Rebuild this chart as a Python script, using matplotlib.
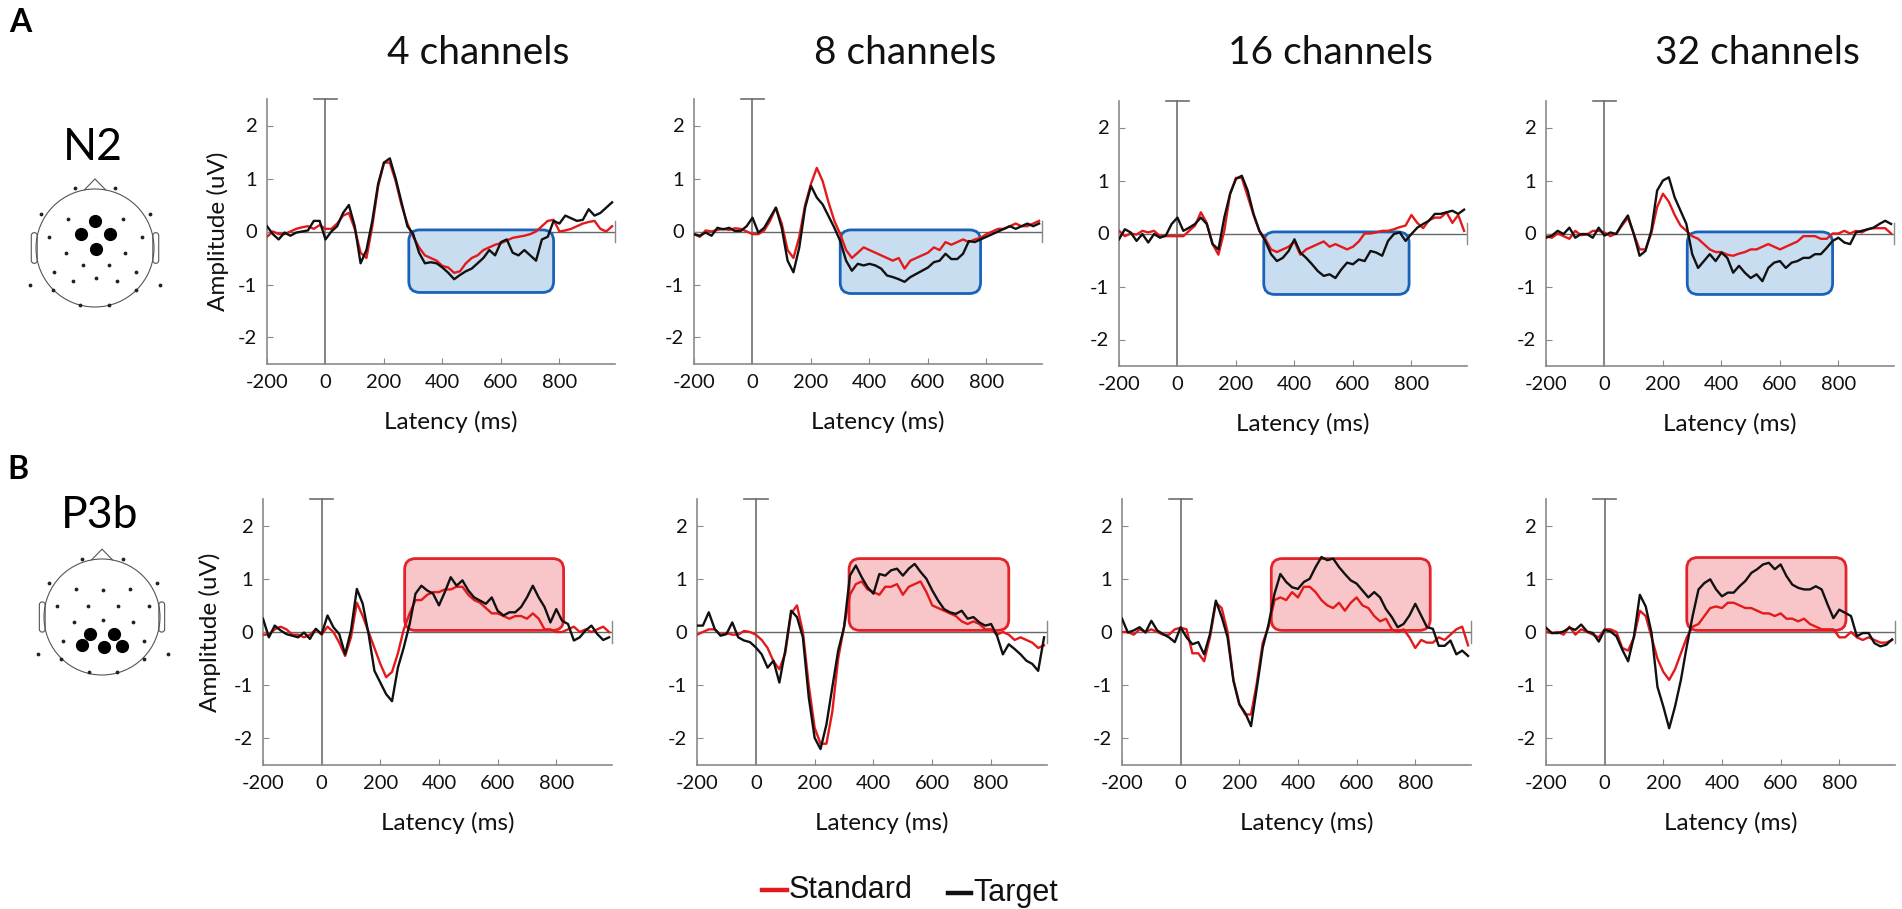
import matplotlib
matplotlib.use('Agg')
import matplotlib.pyplot as plt
from matplotlib.patches import FancyBboxPatch, Circle
from matplotlib.lines import Line2D
from matplotlib.transforms import IdentityTransform

plt.rcParams['font.family'] = ['Lato', 'DejaVu Sans']

# ---------------- data ----------------
T = list(range(-200, 1000, 20))  # latency (ms)

columns = ['4 channels', '8 channels', '16 channels', '32 channels']
components = ['N2', 'P3b']

A1_tgt = [0.1, -0.05, -0.15, -0.02, -0.08, -0.02, 0.0, 0.02, 0.2, 0.2,
          -0.15, 0.0, 0.1, 0.35, 0.5, 0.1, -0.6, -0.35, 0.2, 0.9,
          1.3, 1.38, 1.0, 0.55, 0.1, -0.05, -0.4, -0.6, -0.58, -0.6,
          -0.68, -0.78, -0.9, -0.82, -0.75, -0.7, -0.6, -0.5, -0.35, -0.45,
          -0.2, -0.15, -0.4, -0.45, -0.35, -0.45, -0.55, -0.15, -0.1, 0.2,
          0.15, 0.3, 0.25, 0.2, 0.22, 0.42, 0.3, 0.35, 0.45, 0.55]
A1_std = [-0.1, 0.0, -0.05, -0.05, 0.0, 0.05, 0.08, 0.1, 0.05, 0.12,
          0.05, 0.05, 0.15, 0.3, 0.35, 0.05, -0.4, -0.5, 0.1, 0.85,
          1.3, 1.3, 0.95, 0.5, 0.15, -0.1, -0.3, -0.45, -0.5, -0.55,
          -0.65, -0.68, -0.78, -0.75, -0.6, -0.5, -0.45, -0.35, -0.3, -0.25,
          -0.22, -0.17, -0.12, -0.1, -0.08, -0.05, 0.0, 0.1, 0.2, 0.22,
          0.0, 0.02, 0.05, 0.1, 0.15, 0.18, 0.2, 0.05, 0.0, 0.1]
A2_tgt = [-0.05, -0.08, -0.02, -0.08, 0.07, 0.04, 0.07, 0.01, 0.01, 0.1,
          0.26, -0.02, 0.07, 0.26, 0.45, 0.07, -0.55, -0.77, -0.3, 0.45,
          0.86, 0.64, 0.51, 0.29, 0.07, -0.18, -0.55, -0.74, -0.61, -0.64,
          -0.61, -0.64, -0.7, -0.83, -0.86, -0.9, -0.95, -0.86, -0.8, -0.74,
          -0.68, -0.58, -0.55, -0.42, -0.52, -0.52, -0.42, -0.18, -0.2, -0.15,
          -0.1, -0.05, 0.0, 0.05, 0.1, 0.05, 0.1, 0.15, 0.1, 0.15]
A2_std = [-0.05, -0.1, 0.02, 0.0, 0.03, 0.05, 0.03, 0.06, 0.05, 0.0,
          -0.05, -0.05, 0.02, 0.2, 0.45, 0.15, -0.35, -0.5, -0.1, 0.5,
          0.9, 1.2, 0.95, 0.55, 0.2, -0.05, -0.35, -0.5, -0.4, -0.3,
          -0.35, -0.4, -0.45, -0.5, -0.55, -0.5, -0.7, -0.55, -0.5, -0.45,
          -0.4, -0.3, -0.35, -0.2, -0.25, -0.2, -0.15, -0.2, -0.15, -0.12,
          -0.05, 0.0, 0.05, 0.05, 0.1, 0.15, 0.1, 0.1, 0.15, 0.2]
A3_tgt = [-0.11, 0.08, 0.02, -0.14, -0.01, -0.17, -0.01, -0.08, -0.04, 0.18,
          0.3, 0.05, 0.11, 0.18, 0.3, 0.18, -0.2, -0.3, 0.3, 0.75,
          1.03, 1.09, 0.81, 0.37, 0.05, -0.14, -0.39, -0.52, -0.46, -0.33,
          -0.11, -0.36, -0.46, -0.58, -0.71, -0.8, -0.77, -0.84, -0.68, -0.55,
          -0.58, -0.49, -0.52, -0.33, -0.36, -0.42, -0.14, -0.01, 0.02, -0.14,
          -0.01, 0.11, 0.18, 0.24, 0.37, 0.37, 0.4, 0.43, 0.37, 0.45]
A3_std = [0.05, -0.05, 0.0, -0.02, 0.05, 0.02, 0.05, -0.05, -0.05, -0.05,
          -0.05, -0.05, 0.05, 0.15, 0.4, 0.2, -0.2, -0.4, 0.05, 0.75,
          1.05, 1.05, 0.7, 0.35, 0.05, -0.1, -0.3, -0.35, -0.3, -0.25,
          -0.15, -0.4, -0.3, -0.25, -0.2, -0.15, -0.25, -0.2, -0.25, -0.3,
          -0.25, -0.15, 0.0, 0.0, 0.02, 0.05, 0.05, 0.08, 0.12, 0.15,
          0.35, 0.2, 0.1, 0.25, 0.3, 0.3, 0.4, 0.2, 0.35, 0.05]
A4_tgt = [-0.08, -0.04, 0.05, -0.01, 0.11, -0.08, -0.01, -0.01, -0.08, 0.11,
          -0.04, 0.02, -0.01, 0.18, 0.34, -0.01, -0.42, -0.33, 0.05, 0.81,
          1.0, 1.06, 0.68, 0.43, 0.18, -0.39, -0.65, -0.52, -0.39, -0.52,
          -0.36, -0.46, -0.74, -0.61, -0.74, -0.84, -0.77, -0.9, -0.65, -0.55,
          -0.52, -0.65, -0.55, -0.52, -0.46, -0.46, -0.39, -0.39, -0.27, -0.14,
          -0.08, -0.17, -0.2, 0.02, 0.05, 0.08, 0.11, 0.18, 0.24, 0.18]
A4_std = [-0.05, -0.08, 0.0, -0.05, -0.1, 0.05, -0.03, -0.02, 0.05, 0.05,
          0.02, -0.05, 0.0, 0.15, 0.3, 0.0, -0.3, -0.3, 0.0, 0.5,
          0.75, 0.6, 0.35, 0.15, 0.05, -0.05, -0.1, -0.2, -0.3, -0.35,
          -0.35, -0.4, -0.42, -0.38, -0.35, -0.3, -0.3, -0.25, -0.2, -0.25,
          -0.3, -0.25, -0.2, -0.15, -0.05, -0.05, -0.05, -0.1, -0.1, 0.0,
          0.0, 0.05, 0.0, 0.05, 0.02, 0.08, 0.1, 0.1, 0.1, 0.0]

B1_tgt = [0.25, -0.1, 0.12, 0.03, -0.04, -0.07, -0.1, -0.01, -0.13, 0.06,
          -0.04, 0.31, 0.09, -0.04, -0.42, 0.03, 0.81, 0.53, -0.04, -0.73,
          -0.95, -1.17, -1.3, -0.67, -0.29, 0.15, 0.72, 0.87, 0.78, 0.72,
          0.5, 0.75, 1.03, 0.87, 0.97, 0.78, 0.65, 0.59, 0.53, 0.65,
          0.4, 0.31, 0.37, 0.37, 0.47, 0.65, 0.87, 0.65, 0.47, 0.18,
          0.43, 0.21, 0.15, -0.16, -0.1, 0.03, 0.12, -0.04, -0.15, -0.1]
B1_std = [-0.05, -0.05, 0.05, 0.1, 0.05, -0.05, -0.05, -0.1, -0.05, 0.05,
          -0.05, 0.1, 0.0, -0.2, -0.45, -0.1, 0.55, 0.3, 0.0, -0.3,
          -0.6, -0.85, -0.75, -0.4, 0.05, 0.35, 0.6, 0.6, 0.7, 0.75,
          0.75, 0.8, 0.8, 0.85, 0.85, 0.7, 0.6, 0.55, 0.45, 0.35,
          0.35, 0.3, 0.25, 0.3, 0.3, 0.25, 0.35, 0.25, 0.05, 0.05,
          0.0, 0.0, 0.05, 0.1, 0.0, 0.05, 0.0, 0.05, 0.1, 0.0]
B2_tgt = [0.12, 0.12, 0.37, 0.06, -0.07, -0.04, 0.18, -0.1, -0.16, -0.19,
          -0.29, -0.42, -0.67, -0.54, -0.95, -0.35, 0.4, 0.28, -0.1, -1.23,
          -1.99, -2.2, -1.74, -1.04, -0.35, 0.09, 1.06, 1.25, 1.03, 0.84,
          0.72, 1.09, 1.06, 1.16, 1.19, 1.06, 1.19, 1.28, 1.13, 1.0,
          0.78, 0.59, 0.43, 0.37, 0.34, 0.4, 0.25, 0.28, 0.18, 0.12,
          0.15, -0.07, -0.42, -0.23, -0.32, -0.42, -0.54, -0.6, -0.73, -0.1]
B2_std = [-0.05, 0.0, 0.05, 0.05, -0.05, -0.02, -0.05, -0.05, 0.02, 0.0,
          -0.05, -0.15, -0.3, -0.55, -0.7, -0.4, 0.35, 0.5, 0.0, -1.0,
          -1.8, -2.1, -2.1, -1.5, -0.5, 0.1, 0.7, 0.9, 0.95, 0.8,
          0.75, 0.7, 0.85, 0.85, 0.9, 0.7, 0.85, 0.9, 0.95, 0.75,
          0.5, 0.45, 0.4, 0.35, 0.3, 0.2, 0.15, 0.2, 0.15, 0.05,
          0.05, -0.05, 0.0, -0.05, -0.15, -0.1, -0.15, -0.2, -0.3, -0.25]
B3_tgt = [0.25, -0.01, 0.03, 0.09, -0.01, 0.21, 0.03, -0.04, -0.1, -0.19,
          0.09, -0.1, -0.23, -0.19, -0.42, -0.04, 0.59, 0.28, -0.1, -0.92,
          -1.36, -1.52, -1.77, -1.04, -0.29, 0.15, 0.72, 1.09, 0.94, 0.84,
          0.81, 0.94, 1.0, 1.22, 1.41, 1.35, 1.38, 1.22, 1.09, 0.97,
          0.91, 0.78, 0.65, 0.75, 0.65, 0.43, 0.28, 0.09, 0.15, 0.31,
          0.53, 0.31, 0.09, 0.06, -0.26, -0.26, -0.16, -0.42, -0.35, -0.45]
B3_std = [0.0, 0.0, -0.05, 0.05, 0.0, 0.05, 0.0, -0.05, -0.05, 0.05,
          0.08, 0.05, -0.4, -0.4, -0.55, -0.1, 0.55, 0.45, 0.0, -0.9,
          -1.35, -1.55, -1.55, -0.95, -0.2, 0.1, 0.6, 0.65, 0.6, 0.75,
          0.65, 0.85, 0.85, 0.75, 0.6, 0.5, 0.45, 0.55, 0.4, 0.55,
          0.65, 0.5, 0.45, 0.3, 0.2, 0.25, 0.05, 0.0, 0.05, -0.1,
          -0.3, -0.15, -0.2, -0.2, -0.1, -0.15, -0.05, 0.05, 0.1, -0.25]
B4_tgt = [0.08, -0.02, -0.02, 0.01, 0.08, 0.04, 0.14, 0.01, -0.02, -0.18,
          0.04, 0.01, -0.08, -0.33, -0.55, -0.08, 0.7, 0.48, -0.02, -1.03,
          -1.4, -1.81, -1.4, -0.9, -0.27, 0.3, 0.8, 0.92, 0.99, 0.8,
          0.67, 0.74, 0.74, 0.86, 0.96, 1.11, 1.18, 1.27, 1.3, 1.18,
          1.27, 1.05, 0.89, 0.83, 0.8, 0.8, 0.86, 0.8, 0.52, 0.26,
          0.42, 0.36, 0.3, -0.08, -0.02, -0.02, -0.21, -0.27, -0.24, -0.14]
B4_std = [0.0, -0.02, 0.0, -0.05, 0.1, -0.05, 0.05, 0.0, -0.05, -0.1,
          0.05, 0.05, 0.0, -0.3, -0.35, -0.1, 0.4, 0.3, -0.1, -0.5,
          -0.75, -0.9, -0.7, -0.4, -0.1, 0.1, 0.15, 0.3, 0.45, 0.48,
          0.45, 0.55, 0.55, 0.5, 0.45, 0.45, 0.4, 0.35, 0.35, 0.3,
          0.35, 0.25, 0.25, 0.2, 0.25, 0.15, 0.1, 0.05, 0.05, 0.05,
          -0.1, -0.1, 0.0, -0.1, -0.15, -0.1, -0.15, -0.2, -0.2, -0.15]

standard = [[A1_std, A2_std, A3_std, A4_std], [B1_std, B2_std, B3_std, B4_std]]
target = [[A1_tgt, A2_tgt, A3_tgt, A4_tgt], [B1_tgt, B2_tgt, B3_tgt, B4_tgt]]

# analysis windows: (start ms, end ms, low uV, high uV)
windows = [[(285, 780, -1.15, 0.03), (300, 780, -1.17, 0.03), (295, 792, -1.15, 0.03), (283, 780, -1.15, 0.03)],
           [(283, 825, 0.03, 1.38), (317, 860, 0.03, 1.38), (309, 851, 0.03, 1.38), (280, 823, 0.03, 1.40)]]

xticks = [-200, 0, 200, 400, 600, 800]
yticks = [-2, -1, 0, 1, 2]

# electrode layouts (normalized head coords)
n2_small = [(-0.34, 1.01), (0.34, 1.01), (-0.91, 0.57), (0.93, 0.57), (-0.45, 0.49), (0.47, 0.49),
            (-0.78, 0.19), (0.79, 0.19), (-0.5, -0.08), (0.5, -0.08), (-0.21, -0.29), (0.24, -0.29),
            (-0.69, -0.4), (0.69, -0.4), (-1.11, -0.62), (1.11, -0.62), (-0.37, -0.56), (0.01, -0.5),
            (0.37, -0.56), (-0.71, -0.72), (0.7, -0.72), (-0.26, -0.96), (0.24, -0.96)]
n2_big = [(0.0, 0.46), (-0.24, 0.24), (0.25, 0.24), (0.02, -0.01)]
p3_small = [(-0.34, 1.0), (0.36, 1.0), (-0.91, 0.58), (0.94, 0.58), (-0.44, 0.49), (0.01, 0.46),
            (0.49, 0.49), (-0.78, 0.19), (-0.24, 0.19), (0.27, 0.19), (0.81, 0.19), (-0.49, -0.09),
            (0.01, -0.05), (0.53, -0.09), (-0.67, -0.41), (0.72, -0.41), (-1.11, -0.63), (1.14, -0.63),
            (-0.7, -0.72), (0.72, -0.72), (-0.22, -0.95), (0.26, -0.95)]
p3_big = [(-0.2, -0.3), (0.21, -0.3), (-0.34, -0.49), (0.03, -0.52), (0.35, -0.5)]

# ---------------- layout ----------------
W, H = 1902, 909
fig = plt.figure(figsize=(W / 100, H / 100), dpi=100)
fig.patch.set_facecolor('white')

RED = '#e31a1c'
BLK = '#111111'
GRAY = '#8a8a8a'
row_rects = [
    [(267, 99, 615, 364), (694, 99, 1042, 364), (1119, 101, 1467, 366), (1546, 101, 1894, 366)],
    [(263, 499, 612, 765), (697, 499, 1047, 765), (1122, 499, 1471, 765), (1546, 499, 1895, 765)],
]
box_styles = [('#c9ddf0', '#1a62b8'), ('#f8c6c8', '#e3222a')]


def px_axes(l, t, r, b):
    return fig.add_axes([l / W, 1 - b / H, (r - l) / W, (b - t) / H])


XMAX = 990
for r in range(2):
    for c in range(4):
        l, t, rr, b = row_rects[r][c]
        ax = px_axes(l, t, rr, b)
        ax.set_xlim(-200, XMAX)
        ax.set_ylim(-2.5, 2.5)
        for s in ['top', 'right']:
            ax.spines[s].set_visible(False)
        for s in ['left', 'bottom']:
            ax.spines[s].set_color(GRAY)
            ax.spines[s].set_linewidth(1.2)
        ax.set_xticks(xticks)
        ax.set_yticks(yticks)
        ax.set_xticklabels([str(v) for v in xticks])
        ax.set_yticklabels([str(v) for v in yticks])
        ax.tick_params(direction='in', length=4, color=GRAY, labelsize=14.5, pad=7, labelcolor='#111')
        ax.axhline(0, color='#666666', lw=1.0, zorder=1)
        ax.plot([0, 0], [-2.5, 2.5], color='#6e6e6e', lw=1.2, zorder=1, clip_on=False)
        ax.plot([-40, 40], [2.5, 2.5], color='#6e6e6e', lw=1.2, zorder=1, clip_on=False)
        ax.plot([XMAX, XMAX], [-0.2, 0.2], color=GRAY, lw=1.0, zorder=1, clip_on=False)

        # analysis window box with rounded corners (in pixel space)
        x0, x1, y0, y1 = windows[r][c]
        p0 = ax.transData.transform((x0, y0))
        p1 = ax.transData.transform((x1, y1))
        fc, ec = box_styles[r]
        box = FancyBboxPatch((p0[0], p0[1]), p1[0] - p0[0], p1[1] - p0[1],
                             boxstyle='round,pad=0,rounding_size=11',
                             facecolor=fc, edgecolor=ec, linewidth=2.0,
                             transform=IdentityTransform(), zorder=2)
        ax.add_patch(box)

        ax.plot(T, standard[r][c], color=RED, lw=1.7, zorder=3)
        ax.plot(T, target[r][c], color=BLK, lw=1.7, zorder=4)

        cx = (l + rr) / 2
        ax.text(0.5 + 10 / (rr - l), -(58 / (b - t)), 'Latency (ms)', transform=ax.transAxes,
                ha='center', va='center', fontsize=17.5, color='#111')
        if c == 0:
            ylx = 218 if r == 0 else 210
            ax.text((ylx - l) / (rr - l), 0.5, 'Amplitude (uV)', transform=ax.transAxes,
                    rotation=90, ha='center', va='center', fontsize=17.5, color='#111')
        if r == 0:
            fig.text((cx + 37) / W, 1 - 64 / H, columns[c], ha='center', va='baseline',
                     fontsize=28, color='#111')

# panel letters and component names
fig.text(9 / W, 1 - 32 / H, 'A', fontsize=23, fontweight='bold', ha='left', va='baseline')
fig.text(7 / W, 1 - 479 / H, 'B', fontsize=23, fontweight='bold', ha='left', va='baseline')
fig.text(93 / W, 1 - 148 / H, components[0], fontsize=32, ha='center', va='center')
fig.text(100 / W, 1 - 515 / H, components[1], fontsize=32, ha='center', va='center')


# head icons
def head(cx, cy, rad, small, big):
    size = rad * 2.7
    hx = fig.add_axes([(cx - size / 2) / W, 1 - (cy + size / 2) / H, size / W, size / H])
    hx.set_xlim(-1.35, 1.35)
    hx.set_ylim(-1.35, 1.35)
    hx.set_aspect('equal')
    hx.axis('off')
    hx.add_patch(Circle((0, 0), 1.0, fill=False, edgecolor='#555555', lw=0.8))
    hx.plot([-0.18, 0.0, 0.18], [0.985, 1.17, 0.985], color='#555555', lw=0.8)
    for sgn in (-1, 1):
        ex = -1.08 if sgn < 0 else 0.98
        hx.add_patch(FancyBboxPatch((ex, -0.26), 0.10, 0.52,
                                    boxstyle='round,pad=0,rounding_size=0.05',
                                    fill=False, edgecolor='#555555', lw=0.8))
    sx = [p[0] for p in small]
    sy = [p[1] for p in small]
    hx.scatter(sx, sy, s=3, color='#222222', zorder=3)
    bx = [p[0] for p in big]
    by = [p[1] for p in big]
    hx.scatter(bx, by, s=72, color='black', zorder=4)


head(95, 248, 59, n2_small, n2_big)
head(102, 617, 58, p3_small, p3_big)

# legend
for (x0, x1, col, lab, ty) in [(762, 787, RED, 'Standard', 890), (948, 971, BLK, 'Target', 893)]:
    fig.add_artist(Line2D([x0 / W, x1 / W], [1 - ty / H, 1 - ty / H], color=col, lw=3.2,
                          transform=fig.transFigure))
    fig.text((x1 + 2) / W, 1 - ty / H, lab, ha='left', va='center', fontsize=22,
             family=['Liberation Sans Narrow', 'Liberation Sans', 'DejaVu Sans'], color='#111')

fig.savefig('out.png', dpi=100, facecolor='white')
